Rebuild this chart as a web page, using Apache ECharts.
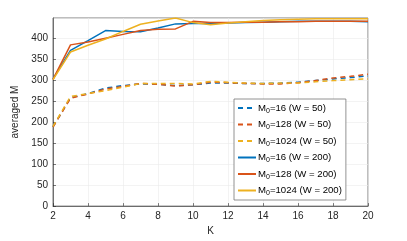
<!DOCTYPE html>
<html><head><meta charset="utf-8">
<script src="https://cdn.jsdelivr.net/npm/echarts@6/dist/echarts.min.js"></script>
<style>html,body{margin:0;padding:0;background:#fff}#c{width:407px;height:241px}</style>
</head><body><div id="c"></div>
<script>
const K = [2,3,4,5,6,7,8,9,10,11,12,13,14,15,16,17,18,19,20];
const d16   = [189,258,268,281,287,291,290,287,289,293,293,292,292,293,295,299,303,306,310];
const d128  = [188,257,267,279,285,292,290,286,289,295,294,292,291,291,294,299,305,309,314];
const d1024 = [190,261,268,275,283,292,292,292,291,297,295,293,292,293,293,296,299,301,303];
const s16   = [303,371,394,418,416,415,424,434,435,435,436,437,438,439,440,440,440,440,439];
const s128  = [302,384,391,400,409,418,421,422,440,437,437,438,438,439,439,440,440,440,440];
const s1024 = [301,367,383,398,416,433,441,448,437,432,436,439,442,444,445,446,446,446,446];
const names = ['d16','d128','d1024','s16','s128','s1024'];
const labels = {
  d16:'M{s|0}=16 (W = 50)', d128:'M{s|0}=128 (W = 50)', d1024:'M{s|0}=1024 (W = 50)',
  s16:'M{s|0}=16 (W = 200)', s128:'M{s|0}=128 (W = 200)', s1024:'M{s|0}=1024 (W = 200)'
};
const colors = ['#0072BD','#D95319','#EDB120'];
const FONT = 'Liberation Sans';
function mk(name, vals, color, dashed){
  return {name:name, type:'line', data:K.map((k,i)=>[k,vals[i]]), showSymbol:false, symbol:'none',
    lineStyle:{color:color, width:1.5, type: dashed?[5,4]:'solid'}, itemStyle:{color:color}, animation:false};
}
const chart = echarts.init(document.getElementById('c'), null, {renderer:'canvas'});
chart.setOption({
  animation:false,
  grid:{left:53, right:39, top:18, bottom:28, show:true, borderColor:'#262626', borderWidth:0.6},
  xAxis:{type:'value', min:2, max:20, interval:2, name:'K', nameLocation:'middle', nameGap:14,
    nameTextStyle:{fontFamily:FONT, fontSize:10, color:'#262626'},
    axisLine:{show:true, onZero:false, lineStyle:{color:'#262626', width:0.6}},
    axisTick:{show:true, inside:true, length:3, lineStyle:{color:'#262626', width:0.6}},
    axisLabel:{fontFamily:FONT, fontSize:10, color:'#262626', margin:5},
    splitLine:{show:true, lineStyle:{color:'#ebebeb', width:0.6}}},
  yAxis:{type:'value', min:0, max:448, interval:50, name:'averaged M', nameLocation:'middle', nameGap:28,
    nameTextStyle:{fontFamily:FONT, fontSize:10, color:'#262626'},
    axisLine:{show:true, lineStyle:{color:'#262626', width:0.6}},
    axisTick:{show:true, inside:true, length:3, lineStyle:{color:'#262626', width:0.6}},
    axisLabel:{fontFamily:FONT, fontSize:10, color:'#262626', margin:5, showMaxLabel:false},
    splitLine:{show:true, lineStyle:{color:'#ebebeb', width:0.6}}},
  legend:{orient:'vertical', left:234, top:99, itemWidth:18, itemHeight:11, itemGap:5,
    padding:[4,4,3,3], backgroundColor:'#fff', borderColor:'#777', borderWidth:0.8,
    itemStyle:{opacity:0},
    formatter: n => labels[n],
    textStyle:{fontFamily:FONT, fontSize:9.6, color:'#000', padding:[0,0,0,-3],
      rich:{s:{fontFamily:FONT, fontSize:7, color:'#000', padding:[6,0,0,0]}}},
    data:names},
  series:[
    mk(names[0], d16, colors[0], true),
    mk(names[1], d128, colors[1], true),
    mk(names[2], d1024, colors[2], true),
    mk(names[3], s16, colors[0], false),
    mk(names[4], s128, colors[1], false),
    mk(names[5], s1024, colors[2], false)
  ]
});
</script></body></html>
